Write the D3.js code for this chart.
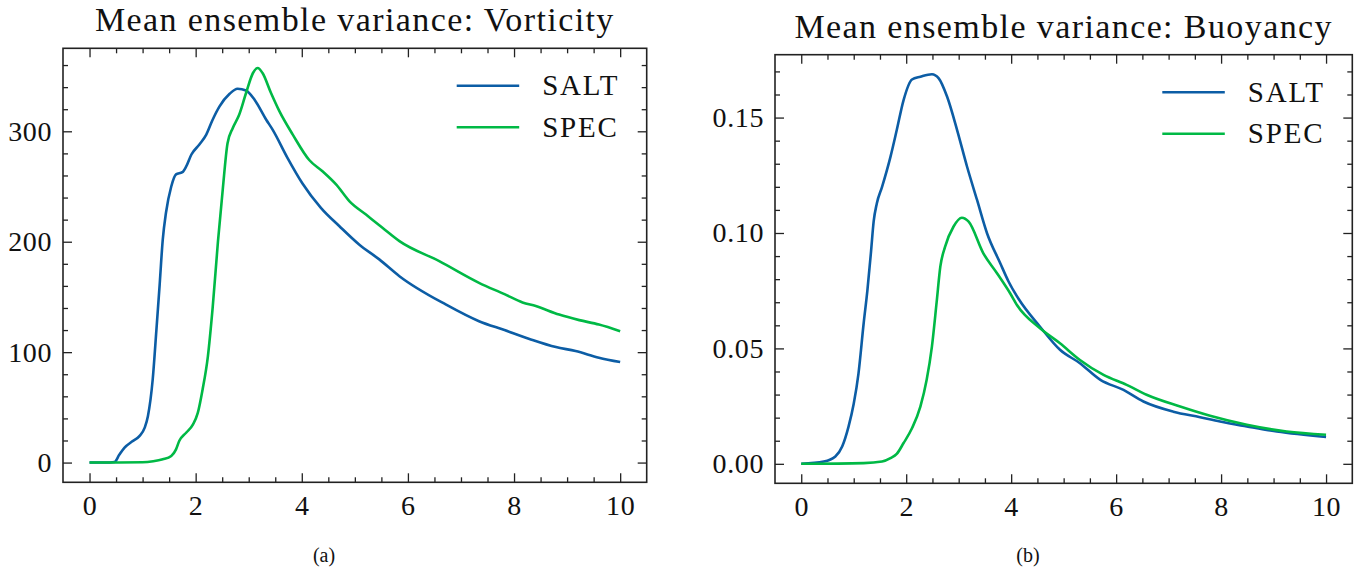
<!DOCTYPE html>
<html>
<head>
<meta charset="utf-8">
<script src="https://cdn.jsdelivr.net/npm/d3@7"></script>
<style>
  html, body { margin: 0; padding: 0; background: #fff; }
  svg { display: block; }
  text { font-family: "Liberation Serif", "Times New Roman", serif; fill: #111; }
</style>
</head>
<body>
<svg id="fig" width="1366" height="571"></svg>
<script>
// ---- Data: time (x) and mean ensemble variance (y) per experiment ----
const series = ["SALT", "SPEC"];
const seriesColors = ["#0C5DA5", "#00B945"];

// Vorticity
const vortSaltT = [0, 0.3, 0.47, 0.56, 0.66, 0.8, 0.94, 1.04, 1.10, 1.19, 1.26, 1.32, 1.38, 1.44, 1.54, 1.63, 1.75, 1.82, 1.92, 2.07, 2.20, 2.32, 2.45, 2.64, 2.79, 2.95, 3.11, 3.33, 3.45, 3.73, 4.01, 4.36, 4.71, 5.08, 5.46, 5.84, 6.72, 7.34, 7.82, 8.29, 8.79, 9.16, 9.60, 10];
const vortSalt  = [0, 0, 0.5, 7, 13.6, 19, 24, 31.6, 42, 75, 120, 160, 202, 226, 250, 261, 263, 268, 279, 288, 297, 310.5, 322.6, 334, 338.6, 337, 328.6, 310.5, 301.5, 276, 253, 230.7, 214, 197.5, 184, 168.8, 143, 128, 120, 112, 104.6, 101, 95, 91];
const vortSpecT = [0, 1.0, 1.2, 1.38, 1.54, 1.63, 1.69, 1.82, 1.95, 2.04, 2.13, 2.23, 2.32, 2.42, 2.51, 2.60, 2.70, 2.82, 2.95, 3.08, 3.17, 3.26, 3.42, 3.58, 3.83, 4.14, 4.39, 4.65, 4.90, 5.21, 5.52, 5.84, 6.59, 7.34, 7.82, 8.16, 8.41, 8.85, 9.23, 9.60, 10];
const vortSpec  = [0, 0.3, 1.2, 3, 6, 12, 19.5, 27, 34.6, 45, 66, 96, 140, 200, 247, 289, 303, 315, 334.7, 352.8, 357.3, 352.8, 334.7, 318, 297, 274, 263.8, 251.7, 236.6, 224.6, 212.6, 200.5, 182.4, 162.8, 152.5, 145, 141.7, 134, 129, 125, 119];

// Buoyancy
const buoySaltT = [0, 0.43, 0.65, 0.78, 0.90, 1.0, 1.09, 1.19, 1.26, 1.33, 1.38, 1.44, 1.54, 1.70, 1.82, 1.95, 2.11, 2.27, 2.49, 2.62, 2.78, 2.97, 3.16, 3.35, 3.54, 3.79, 3.95, 4.14, 4.55, 4.93, 5.31, 5.70, 6.14, 6.52, 7.09, 7.6, 7.98, 8.49, 9.06, 10];
const buoySalt  = [0, 0.001, 0.0032, 0.0075, 0.016, 0.026, 0.039, 0.061, 0.075, 0.092, 0.105, 0.1128, 0.12, 0.133, 0.1446, 0.1576, 0.1665, 0.1677, 0.1688, 0.167, 0.159, 0.1446, 0.1287, 0.1143, 0.0999, 0.087, 0.079, 0.0715, 0.0594, 0.0494, 0.0436, 0.0364, 0.032, 0.027, 0.0226, 0.0202, 0.0183, 0.0162, 0.014, 0.0116];
const buoySpecT = [0, 1.19, 1.54, 1.70, 1.82, 1.95, 2.11, 2.27, 2.39, 2.49, 2.58, 2.65, 2.74, 2.90, 3.06, 3.19, 3.47, 3.73, 3.98, 4.11, 4.55, 4.93, 5.31, 5.76, 6.20, 6.58, 7.22, 7.79, 8.49, 9.25, 10];
const buoySpec  = [0, 0.0003, 0.001, 0.0025, 0.0043, 0.009, 0.0154, 0.0248, 0.0364, 0.0508, 0.070, 0.0854, 0.094, 0.1027, 0.1066, 0.1049, 0.0912, 0.0826, 0.0739, 0.0688, 0.0587, 0.0522, 0.045, 0.0385, 0.0342, 0.0299, 0.0248, 0.0208, 0.0169, 0.014, 0.0126];

// Tick values
const xTicks = [0, 2, 4, 6, 8, 10];
const vortYTicks = [0, 100, 200, 300];
const buoyYTicks = [0, 0.05, 0.10, 0.15];

const panels = [
  {
    title: "Mean ensemble variance: Vorticity", caption: "(a)",
    box: { left: 63, top: 48.3, right: 646.7, bottom: 482.3 },
    lines: [[vortSaltT, vortSalt], [vortSpecT, vortSpec]],
    yTicks: vortYTicks, yMinorStep: 20, yFmt: d3.format("d"), captionX: 324
  },
  {
    title: "Mean ensemble variance: Buoyancy", caption: "(b)",
    box: { left: 775, top: 54.7, right: 1352.3, bottom: 483.3 },
    lines: [[buoySaltT, buoySalt], [buoySpecT, buoySpec]],
    yTicks: buoyYTicks, yMinorStep: 0.01, yFmt: d3.format(".2f"), captionX: 1028
  }
];

const svg = d3.select("#fig");
svg.append("rect").attr("width", 1366).attr("height", 571).attr("fill", "#fff");

const MAJOR = 9, MINOR = 5;
const tickFont = 28;

function range(a, b, step) {
  const out = [];
  const n = Math.round((b - a) / step);
  for (let i = 0; i <= n; i++) out.push(+(a + i * step).toFixed(6));
  return out;
}

panels.forEach(p => {
  const b = p.box;
  const allT = p.lines.flatMap(l => l[0]);
  const allV = p.lines.flatMap(l => l[1]);
  const tMin = d3.min(allT), tMax = d3.max(allT);
  const vMin = d3.min(allV), vMax = d3.max(allV);
  const tPad = (tMax - tMin) * 0.05, vPad = (vMax - vMin) * 0.05;

  const x = d3.scaleLinear().domain([tMin - tPad, tMax + tPad]).range([b.left, b.right]);
  const y = d3.scaleLinear().domain([vMin - vPad, vMax + vPad]).range([b.bottom, b.top]);

  const g = svg.append("g");
  const xMinor = range(0, 10, 0.5).filter(v => !xTicks.includes(v));
  const yLo = y.domain()[0], yHi = y.domain()[1];
  const yMinor = range(Math.ceil(yLo / p.yMinorStep) * p.yMinorStep, yHi, p.yMinorStep)
    .filter(v => v >= yLo && v <= yHi && !p.yTicks.some(t => Math.abs(t - v) < 1e-9));

  function axis(gen, tx, ty, values, size, labels, fmt, pad) {
    const a = gen.tickValues(values).tickSize(-size).tickPadding(pad || 0)
      .tickFormat(labels ? fmt : () => "");
    const sel = g.append("g").attr("transform", `translate(${tx},${ty})`).call(a);
    sel.select(".domain").remove();
    sel.selectAll("line").attr("stroke", "#222").attr("stroke-width", 1.3);
    sel.selectAll("text").attr("font-size", tickFont).attr("letter-spacing", 0.6)
      .attr("font-family", "Liberation Serif, serif").attr("fill", "#111");
    return sel;
  }

  // bottom / top
  axis(d3.axisBottom(x), 0, b.bottom, xTicks, MAJOR, true, d3.format("d"), 13);
  axis(d3.axisBottom(x), 0, b.bottom, xMinor, MINOR, false);
  axis(d3.axisTop(x), 0, b.top, xTicks, MAJOR, false);
  axis(d3.axisTop(x), 0, b.top, xMinor, MINOR, false);
  // left / right
  axis(d3.axisLeft(y), b.left, 0, p.yTicks, MAJOR, true, p.yFmt, 11);
  axis(d3.axisLeft(y), b.left, 0, yMinor, MINOR, false);
  axis(d3.axisRight(y), b.right, 0, p.yTicks, MAJOR, false);
  axis(d3.axisRight(y), b.right, 0, yMinor, MINOR, false);

  // curves
  const lineGen = d3.line().x(d => x(d[0])).y(d => y(d[1])).curve(d3.curveMonotoneX);
  p.lines.forEach((l, i) => {
    const pts = l[0].map((t, k) => [t, l[1][k]]);
    g.append("path").datum(pts).attr("d", lineGen)
      .attr("fill", "none").attr("stroke", seriesColors[i])
      .attr("stroke-width", 2.6).attr("stroke-linejoin", "round").attr("stroke-linecap", "butt");
  });

  // frame
  g.append("rect").attr("x", b.left).attr("y", b.top)
    .attr("width", b.right - b.left).attr("height", b.bottom - b.top)
    .attr("fill", "none").attr("stroke", "#222").attr("stroke-width", 1.6);

  // legend
  series.forEach((s, i) => {
    const ly = b.top + 37.5 + i * 41.5;
    g.append("line").attr("x1", b.right - 190).attr("x2", b.right - 127.5)
      .attr("y1", ly).attr("y2", ly).attr("stroke", seriesColors[i]).attr("stroke-width", 2.6);
    g.append("text").attr("x", b.right - 104.5).attr("y", ly + 9.5)
      .attr("font-size", 29).attr("letter-spacing", 1.8).text(s);
  });

  // title
  g.append("text").attr("x", (b.left + b.right) / 2).attr("y", b.top - 17)
    .attr("text-anchor", "middle").attr("font-size", 34).attr("letter-spacing", 1.4).text(p.title);

  // sub-caption
  g.append("text").attr("x", p.captionX).attr("y", 562)
    .attr("text-anchor", "middle").attr("font-size", 20).text(p.caption);
});
</script>
</body>
</html>
